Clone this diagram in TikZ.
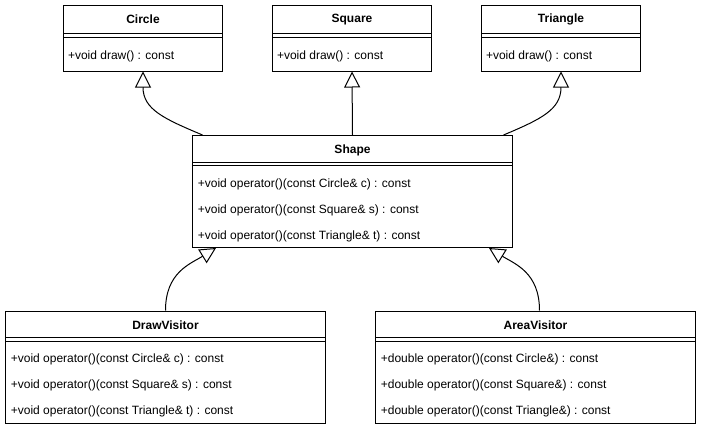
\documentclass[tikz,border=0pt]{standalone}
\usepackage{fontspec}
\setmainfont{Liberation Sans}
\usetikzlibrary{positioning,arrows.meta}

\begin{document}
\begin{tikzpicture}[x=0.75pt,y=-0.75pt,line width=0.75pt,
klass/.style={rectangle,draw,inner sep=0pt},
small/.style={klass,minimum width=119.25pt,minimum height=49.5pt},
big/.style={klass,minimum width=240pt,minimum height=84pt},
title/.style={inner sep=0pt,font=\bfseries\fontsize{9}{11}\selectfont},
member/.style={inner sep=0pt,anchor=west,font=\fontsize{9}{11}\selectfont},
extends/.style={-{Triangle[open,length=12pt,width=12pt]}}
]
\useasboundingbox (0,0) rectangle (708,432);

% top classes
\node[small] (Circle) at (143,38) {};
\node[small] (Square) at (352,38) {};
\node[small] (Triangle) at (561,38) {};
\node[title] (CircleT) at ([yshift=-11.25pt]Circle.north) {Circle};
\node[title] (SquareT) at ([yshift=-11.25pt]Square.north) {Square};
\node[title] (TriangleT) at ([yshift=-11.25pt]Triangle.north) {Triangle};
\node[member] (CircleM) at ([xshift=3.4pt,yshift=-39pt]Circle.north west) {+void draw() : const};
\node[member] (SquareM) at ([xshift=3.4pt,yshift=-39pt]Square.north west) {+void draw() : const};
\node[member] (TriangleM) at ([xshift=3.4pt,yshift=-39pt]Triangle.north west) {+void draw() : const};

% Shape
\node[big] (Shape) at (352.5,191.5) {};
\node[title] (ShapeT) at ([yshift=-11.25pt]Shape.north) {Shape};
\node[member] (ShapeC) at ([xshift=4pt,yshift=-36.75pt]Shape.north west) {+void operator()(const Circle\& c) : const};
\node[member] (ShapeS) at ([xshift=4pt,yshift=-56.25pt]Shape.north west) {+void operator()(const Square\& s) : const};
\node[member] (ShapeTr) at ([xshift=4pt,yshift=-75.75pt]Shape.north west) {+void operator()(const Triangle\& t) : const};

% visitors
\node[big] (DrawVisitor) at (165.5,367) {};
\node[big] (AreaVisitor) at (535.5,367) {};
\node[title] (DrawT) at ([yshift=-11.25pt]DrawVisitor.north) {DrawVisitor};
\node[title] (AreaT) at ([yshift=-11.25pt]AreaVisitor.north) {AreaVisitor};
\node[member] (DrawC) at ([xshift=4pt,yshift=-36.75pt]DrawVisitor.north west) {+void operator()(const Circle\& c) : const};
\node[member] (DrawS) at ([xshift=4pt,yshift=-56.25pt]DrawVisitor.north west) {+void operator()(const Square\& s) : const};
\node[member] (DrawTr) at ([xshift=4pt,yshift=-75.75pt]DrawVisitor.north west) {+void operator()(const Triangle\& t) : const};
\node[member] (AreaC) at ([xshift=4pt,yshift=-36.75pt]AreaVisitor.north west) {+double operator()(const Circle\&) : const};
\node[member] (AreaS) at ([xshift=4pt,yshift=-56.25pt]AreaVisitor.north west) {+double operator()(const Square\&) : const};
\node[member] (AreaTr) at ([xshift=4pt,yshift=-75.75pt]AreaVisitor.north west) {+double operator()(const Triangle\&) : const};

% double separators
\draw ([yshift=-22pt]Circle.north west) -- ([yshift=-22pt]Circle.north east);
\draw ([yshift=-25pt]Circle.north west) -- ([yshift=-25pt]Circle.north east);
\draw ([yshift=-22pt]Square.north west) -- ([yshift=-22pt]Square.north east);
\draw ([yshift=-25pt]Square.north west) -- ([yshift=-25pt]Square.north east);
\draw ([yshift=-22pt]Triangle.north west) -- ([yshift=-22pt]Triangle.north east);
\draw ([yshift=-25pt]Triangle.north west) -- ([yshift=-25pt]Triangle.north east);
\draw ([yshift=-20.25pt]Shape.north west) -- ([yshift=-20.25pt]Shape.north east);
\draw ([yshift=-23pt]Shape.north west) -- ([yshift=-23pt]Shape.north east);
\draw ([yshift=-20.25pt]DrawVisitor.north west) -- ([yshift=-20.25pt]DrawVisitor.north east);
\draw ([yshift=-23.25pt]DrawVisitor.north west) -- ([yshift=-23.25pt]DrawVisitor.north east);
\draw ([yshift=-20.25pt]AreaVisitor.north west) -- ([yshift=-20.25pt]AreaVisitor.north east);
\draw ([yshift=-23.25pt]AreaVisitor.north west) -- ([yshift=-23.25pt]AreaVisitor.north east);

% inheritance
\draw[extends] ([xshift=7.9pt]Shape.north west) .. controls +(-38,-16) and +(0,38) .. (Circle.south);
\draw[extends] (Shape.north) -- (Square.south);
\draw[extends] ([xshift=-7.1pt]Shape.north east) .. controls +(38,-16) and +(0,38) .. (Triangle.south);
\draw[extends] (DrawVisitor.north) .. controls +(0,-38) and +(-26,16) .. ([xshift=18pt]Shape.south west);
\draw[extends] ([xshift=3pt]AreaVisitor.north) .. controls +(0,-38) and +(26,16) .. ([xshift=-18pt]Shape.south east);
\end{tikzpicture}
\end{document}
